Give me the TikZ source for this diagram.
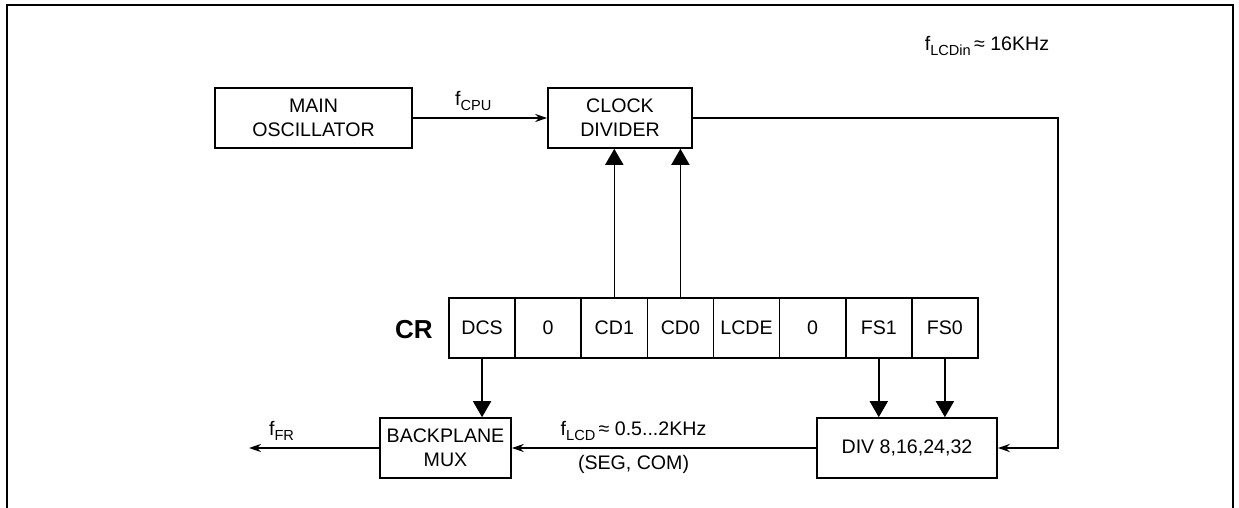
\documentclass[tikz,border=0pt]{standalone}
\usepackage{fontspec}
\setmainfont{Liberation Sans}
\usetikzlibrary{positioning}
\usetikzlibrary{arrows.meta}

\tikzset{
    block/.style={draw, line width=0.8pt, align=center, inner sep=0pt, minimum height=30pt},
    regcell/.style={draw, line width=0.8pt, minimum width=33.06pt, minimum height=30pt, inner sep=0pt, outer sep=0pt},
    bus/.style={line width=0.8pt, -{Stealth[length=6pt,width=4pt]}},
    ctrl/.style={line width=0.8pt, -{Triangle[length=8pt,width=9pt]}},
    frame/.style={line width=1.2pt}
}
\newcommand{\idx}[1]{\raisebox{-0.25em}{\fontsize{7.3}{8}\selectfont #1}}

\begin{document}
\begin{tikzpicture}[x=0.5pt, y=-0.5pt, font=\fontsize{9.8}{12}\selectfont]
    \useasboundingbox (0,0) rectangle (1239,508);
    % outer frame, open at the bottom
    \draw[frame] (7,508) -- (7,5) -- (1233,5) -- (1233,508);

    % clock source and divider
    \node[block, minimum width=98.5pt] (osc) at (313.5,118) {MAIN\\OSCILLATOR};
    \node[block, minimum width=72pt] (clk) at (620,118) {CLOCK\\DIVIDER};
    \node (flcdin) at (987,46) {f\idx{LCDin}\,≈ 16KHz};

    % control register
    \node[font=\fontsize{13}{15}\selectfont\bfseries] (cr) at (414,330) {CR};
    \node[regcell] (dcs) at (482.06,328) {DCS};
    \node[regcell, right=0pt of dcs] (zeroa) {0};
    \node[regcell, right=0pt of zeroa] (cdone) {CD1};
    \node[regcell, right=0pt of cdone] (cdzero) {CD0};
    \node[regcell, right=0pt of cdzero] (lcde) {LCDE};
    \node[regcell, right=0pt of lcde] (zerob) {0};
    \node[regcell, right=0pt of zerob] (fsone) {FS1};
    \node[regcell, right=0pt of fsone] (fszero) {FS0};

    % output side
    \node[block, minimum width=65.5pt] (bp) at (445.5,448) {BACKPLANE\\MUX};
    \node[block, minimum width=90pt] (div) at (907,448) {DIV 8,16,24,32};
    \coordinate (turn) at (1058,118);
    \coordinate (ffr) at (249,448);

    % connections
    \draw[bus] (osc) -- node[pos=0.45, above] (fcpu) {f\idx{CPU}} (clk);
    \draw[bus] (clk) -- (turn) |- (div);
    \draw[ctrl] (cdone) -- (cdone |- clk.south);
    \draw[ctrl] (cdzero) -- (cdzero |- clk.south);
    \draw[ctrl] (dcs) -- (dcs |- bp.north);
    \draw[ctrl] (fsone) -- (fsone |- div.north);
    \draw[ctrl] (fszero) -- (fszero |- div.north);
    \draw[bus] (div) -- node[pos=0.6, above] (flcd) {f\idx{LCD}\,≈ 0.5...2KHz}
        node[pos=0.6, below] (segcom) {(SEG, COM)} (bp);
    \draw[bus] (bp) -- node[pos=0.75, above] (ffrtext) {f\idx{FR}} (ffr);
\end{tikzpicture}
\end{document}
